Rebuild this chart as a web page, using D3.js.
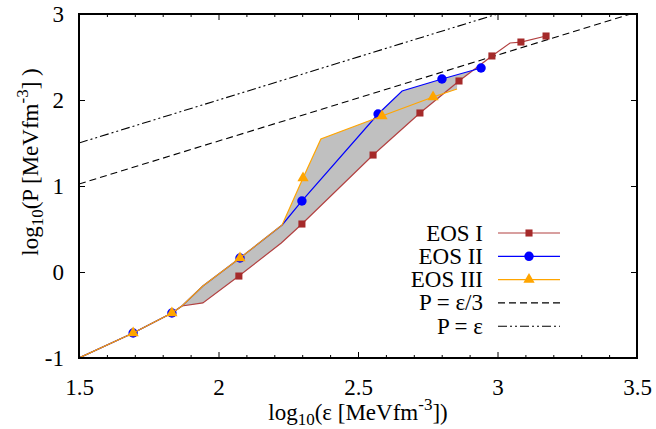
<!DOCTYPE html>
<html><head><meta charset="utf-8">
<script src="https://cdn.jsdelivr.net/npm/d3@7"></script>
<style>
html,body{margin:0;padding:0;background:#fff;}
svg text{font-family:"Liberation Serif","Times New Roman",serif;fill:#000;}
</style></head>
<body><svg id="c" width="656" height="429"></svg>
<script>
// ---- data (log10 epsilon, log10 P) ----
const eos1X = [1.5, 1.694, 1.833, 1.869, 1.944, 2.073, 2.225, 2.299, 2.554, 2.722, 2.862, 2.980, 3.045, 3.084, 3.174];
const eos1Y = [-1, -0.709, -0.477, -0.395, -0.36, -0.047, 0.337, 0.558, 1.360, 1.849, 2.221, 2.512, 2.663, 2.674, 2.744];
const eos1MarkX = [2.073, 2.299, 2.554, 2.722, 2.862, 2.980, 3.084, 3.174];
const eos1MarkY = [-0.047, 0.558, 1.360, 1.849, 2.221, 2.512, 2.674, 2.744];

const eos2X = [1.5, 1.694, 1.833, 1.869, 1.944, 2.077, 2.228, 2.299, 2.572, 2.658, 2.801, 2.941];
const eos2Y = [-1, -0.709, -0.477, -0.395, -0.163, 0.163, 0.547, 0.826, 1.837, 2.105, 2.244, 2.372];
const eos2MarkX = [1.694, 1.833, 2.077, 2.299, 2.572, 2.801, 2.941];
const eos2MarkY = [-0.709, -0.477, 0.163, 0.826, 1.837, 2.244, 2.372];

const eos3X = [1.5, 1.694, 1.833, 1.869, 1.944, 2.077, 2.228, 2.303, 2.367, 2.586, 2.769, 2.855];
const eos3Y = [-1, -0.709, -0.477, -0.395, -0.163, 0.163, 0.547, 1.093, 1.547, 1.814, 2.035, 2.128];
const eos3MarkX = [1.694, 1.833, 2.077, 2.303, 2.586, 2.769];
const eos3MarkY = [-0.709, -0.477, 0.163, 1.093, 1.814, 2.035];

const bandRange = [1.869, 2.941];
const ratioNames = ["P = \u03b5/3", "P = \u03b5"];
const ratioOffsets = [-Math.log10(3), 0];   // log10 P = log10 eps + offset
const seriesNames = ["EOS I", "EOS II", "EOS III"];
const xTicks = [1.5, 2, 2.5, 3, 3.5];
const xTickLabels = ["1.5", "2", "2.5", "3", "3.5"];
const yTicks = [-1, 0, 1, 2, 3];
const yTickLabels = ["-1", "0", "1", "2", "3"];

// ---- layout ----
const L = 79, R = 637, T = 14, B = 358;
const FS = 23;
const svg = d3.select("#c");
const x = d3.scaleLinear().domain([1.5, 3.5]).range([L, R]);
const y = d3.scaleLinear().domain([-1, 3]).range([B, T]);
const zip = (a, b) => a.map((v, i) => [v, b[i]]);

svg.append("defs").append("clipPath").attr("id", "clip")
  .append("rect").attr("x", L).attr("y", T).attr("width", R - L).attr("height", B - T);
const g = svg.append("g").attr("clip-path", "url(#clip)");

// ---- grey band: envelope of the three curves ----
function interp(xs, ys, v) {
  if (v < xs[0] || v > xs[xs.length - 1]) return null;
  for (let i = 0; i < xs.length - 1; i++) {
    if (v >= xs[i] && v <= xs[i + 1]) {
      const t = (v - xs[i]) / (xs[i + 1] - xs[i] || 1);
      return ys[i] + t * (ys[i + 1] - ys[i]);
    }
  }
  return ys[ys.length - 1];
}
const curves = [[eos1X, eos1Y], [eos2X, eos2Y], [eos3X, eos3Y]];
let grid = Array.from(new Set([...eos1X, ...eos2X, ...eos3X, ...bandRange]))
  .filter(v => v >= bandRange[0] && v <= bandRange[1]).sort((a, b) => a - b);
let fine = [];
for (let i = 0; i < grid.length - 1; i++) {
  for (let k = 0; k < 10; k++) fine.push(grid[i] + (grid[i + 1] - grid[i]) * k / 10);
}
fine.push(grid[grid.length - 1]);
const band = fine.map(v => {
  const vals = curves.map(c => interp(c[0], c[1], v)).filter(q => q !== null);
  return {x: v, lo: d3.min(vals), hi: d3.max(vals)};
});
g.append("path").datum(band)
  .attr("d", d3.area().x(d => x(d.x)).y0(d => y(d.lo)).y1(d => y(d.hi)))
  .attr("fill", "#c0c0c0").attr("stroke", "none");

// ---- ratio lines ----
const dashes = ["7,4", "9,3,2,3,2,3"];
ratioOffsets.forEach((off, i) => {
  g.append("path").datum([1.5, 3.5])
    .attr("d", d3.line().x(d => x(d)).y(d => y(d + off)))
    .attr("fill", "none").attr("stroke", "#000").attr("stroke-width", 1.1)
    .attr("stroke-dasharray", dashes[i]);
});

// ---- EOS lines ----
const lineColors = ["#b24040", "#0000ff", "#ffa500"];
const markColors = ["#a52a2a", "#0000ff", "#ffa500"];
const line = d3.line().x(d => x(d[0])).y(d => y(d[1]));
const marks = [zip(eos1MarkX, eos1MarkY), zip(eos2MarkX, eos2MarkY), zip(eos3MarkX, eos3MarkY)];
const shapes = [d3.symbolSquare, d3.symbolCircle, d3.symbolTriangle];
const sizes = [50, 70, 55];
curves.forEach((c, i) => {
  g.append("path").datum(zip(c[0], c[1])).attr("d", line)
    .attr("fill", "none").attr("stroke", lineColors[i]).attr("stroke-width", 1.2);
  g.selectAll(null).data(marks[i]).enter().append("path")
    .attr("transform", d => `translate(${x(d[0])},${y(d[1])})`)
    .attr("d", d3.symbol().type(shapes[i]).size(sizes[i]))
    .attr("fill", markColors[i]);
});

// ---- axes ----
const minorX = d3.range(1.5, 3.51, 0.1).filter(v => Math.abs(v * 2 - Math.round(v * 2)) > 1e-6);
function tickLayer(axisFn, scale, vals, size, tr, labels) {
  const a = axisFn(scale).tickValues(vals).tickSizeInner(size).tickSizeOuter(0);
  if (labels) a.tickFormat((d, i) => labels[i]).tickPadding(10); else a.tickFormat("");
  const sel = svg.append("g").attr("transform", tr).call(a);
  sel.attr("font-family", null).attr("font-size", null);
  sel.select(".domain").remove();
  sel.selectAll("line").attr("stroke", "#000").attr("stroke-width", 1);
  sel.selectAll("text").style("font-size", FS + "px");
  return sel;
}
tickLayer(d3.axisBottom, x, xTicks, -6, `translate(0,${B})`, xTickLabels)
  .selectAll("text").attr("dy", "0.71em").attr("y", 21);
tickLayer(d3.axisBottom, x, minorX, -3, `translate(0,${B})`);
tickLayer(d3.axisTop, x, xTicks, -6, `translate(0,${T})`);
tickLayer(d3.axisTop, x, minorX, -3, `translate(0,${T})`);
tickLayer(d3.axisLeft, y, yTicks, -6, `translate(${L},0)`, yTickLabels)
  .selectAll("text").attr("x", -15);
tickLayer(d3.axisRight, y, yTicks, -6, `translate(${R},0)`);

svg.append("rect").attr("x", L).attr("y", T).attr("width", R - L).attr("height", B - T)
  .attr("fill", "none").attr("stroke", "#000").attr("stroke-width", 2);

// ---- axis labels ----
const xl = svg.append("text").attr("x", (L + R) / 2).attr("y", 420)
  .attr("text-anchor", "middle").style("font-size", FS + "px");
xl.append("tspan").text("log");
xl.append("tspan").attr("dy", 5).style("font-size", "17px").text("10");
xl.append("tspan").attr("dy", -5).text("(\u03b5 [MeVfm");
xl.append("tspan").attr("dy", -10).style("font-size", "17px").text("-3");
xl.append("tspan").attr("dy", 10).text("])");

const yl = svg.append("text").attr("transform", `translate(38,162) rotate(-90)`)
  .attr("text-anchor", "middle").style("font-size", FS + "px");
yl.append("tspan").text("log");
yl.append("tspan").attr("dy", 5).style("font-size", "17px").text("10");
yl.append("tspan").attr("dy", -5).text("(P [MeVfm");
yl.append("tspan").attr("dy", -10).style("font-size", "17px").text("-3");
yl.append("tspan").attr("dy", 10).text("] )");

// ---- legend ----
const legNames = seriesNames.concat(ratioNames);
const legY0 = 233, legDY = 23.3, legTextX = 483, legL1 = 498, legL2 = 560;
legNames.forEach((name, i) => {
  const yy = legY0 + i * legDY;
  svg.append("text").attr("x", legTextX).attr("y", yy + 7.5).attr("text-anchor", "end")
    .style("font-size", FS + "px").text(name);
  const ln = svg.append("line").attr("x1", legL1).attr("x2", legL2).attr("y1", yy).attr("y2", yy)
    .attr("stroke-width", i < 3 ? 1.2 : 1.1);
  if (i < 3) {
    ln.attr("stroke", lineColors[i]);
    svg.append("path").attr("transform", `translate(${(legL1 + legL2) / 2},${yy})`)
      .attr("d", d3.symbol().type(shapes[i]).size(sizes[i])).attr("fill", markColors[i]);
  } else {
    ln.attr("stroke", "#000").attr("stroke-dasharray", dashes[i - 3]);
  }
});
</script></body></html>
